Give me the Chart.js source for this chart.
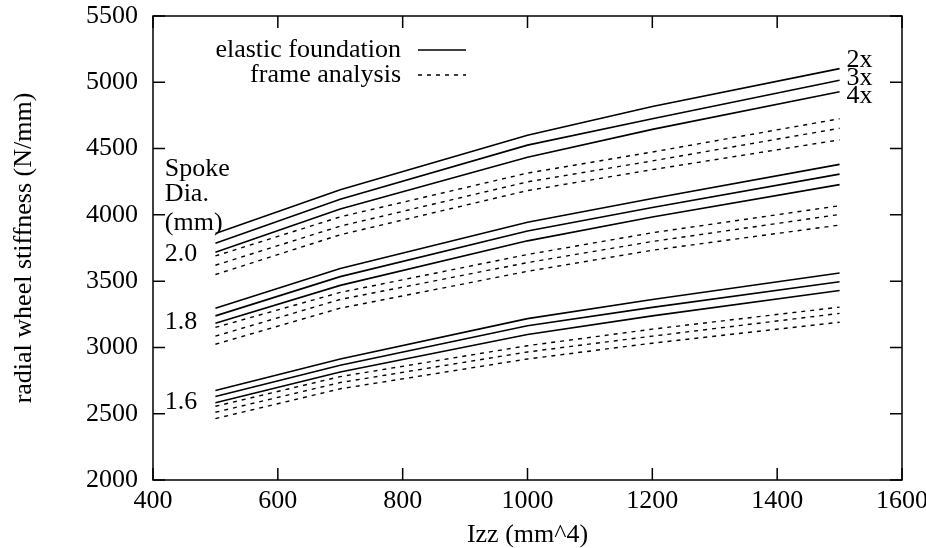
<!DOCTYPE html>
<html>
<head>
<meta charset="utf-8">
<script src="https://cdn.jsdelivr.net/npm/chart.js@4/dist/chart.umd.min.js"></script>
<style>
    html, body { margin: 0; padding: 0; background: #ffffff; }
    #chart { display: block; }
</style>
</head>
<body>
<canvas id="chart" width="926" height="548"></canvas>
<script>
// 数据: 辐条直径 x 交叉数 (2x/3x/4x)
const izz = [500, 700, 1000, 1200, 1500];
const xTicks = [400, 600, 800, 1000, 1200, 1400, 1600];
const yTicks = [2000, 2500, 3000, 3500, 4000, 4500, 5000, 5500];

// elastic foundation (实线)
const elastic20_2x = [3860, 4190, 4600, 4817, 5103];
const elastic20_3x = [3785, 4118, 4526, 4725, 5016];
const elastic20_4x = [3718, 4045, 4434, 4645, 4929];
const elastic18_2x = [3296, 3595, 3944, 4124, 4381];
const elastic18_3x = [3238, 3534, 3878, 4056, 4307];
const elastic18_4x = [3183, 3468, 3804, 3984, 4228];
const elastic16_2x = [2675, 2913, 3217, 3362, 3561];
const elastic16_3x = [2630, 2865, 3164, 3302, 3495];
const elastic16_4x = [2582, 2815, 3098, 3238, 3429];

// frame analysis (虚线)
const frame20_2x = [3690, 3985, 4315, 4474, 4725];
const frame20_3x = [3620, 3915, 4249, 4407, 4653];
const frame20_4x = [3550, 3850, 4183, 4341, 4566];
const frame18_2x = [3151, 3415, 3701, 3865, 4069];
const frame18_3x = [3085, 3362, 3640, 3799, 4003];
const frame18_4x = [3024, 3296, 3574, 3733, 3923];
const frame16_2x = [2556, 2780, 3013, 3138, 3304];
const frame16_3x = [2511, 2735, 2966, 3085, 3257];
const frame16_4x = [2463, 2688, 2913, 3032, 3190];

const elasticSeries = [elastic20_2x, elastic20_3x, elastic20_4x, elastic18_2x, elastic18_3x, elastic18_4x, elastic16_2x, elastic16_3x, elastic16_4x];
const frameSeries = [frame20_2x, frame20_3x, frame20_4x, frame18_2x, frame18_3x, frame18_4x, frame16_2x, frame16_3x, frame16_4x];

// 图中文字标注 (数据坐标)
const noteLabels = ['Spoke', 'Dia.', '(mm)', '2.0', '1.8', '1.6'];
const noteY = [4346, 4156, 3936, 3701, 3192, 2585];
const crossLabels = ['2x', '3x', '4x'];
const crossY = [5166, 5030, 4893];

const FONT = '"Liberation Serif", "DejaVu Serif", serif';
const FONT_SIZE = 26;

function toPoints(values) {
    return values.map((v, i) => ({ x: izz[i], y: v }));
}

const datasets = [];
elasticSeries.forEach(s => {
    datasets.push({
        data: toPoints(s),
        borderColor: '#000000',
        borderWidth: 1.6,
        pointRadius: 0,
        fill: false,
        tension: 0
    });
});
frameSeries.forEach(s => {
    datasets.push({
        data: toPoints(s),
        borderColor: '#000000',
        borderWidth: 1.4,
        borderDash: [4, 5],
        pointRadius: 0,
        fill: false,
        tension: 0
    });
});

// 边框, 向内刻度, 图例与标注
const framePlugin = {
    id: 'gnuplotFrame',
    afterDatasetsDraw(chart) {
        const ctx = chart.ctx;
        const area = chart.chartArea;
        const xs = chart.scales.x;
        const ys = chart.scales.y;
        const tick = 12;
        ctx.save();
        ctx.strokeStyle = '#000000';
        ctx.lineWidth = 1.5;
        ctx.setLineDash([]);
        ctx.strokeRect(area.left, area.top, area.right - area.left, area.bottom - area.top);
        ctx.beginPath();
        xTicks.forEach(v => {
            const px = xs.getPixelForValue(v);
            ctx.moveTo(px, area.bottom); ctx.lineTo(px, area.bottom - tick);
            ctx.moveTo(px, area.top); ctx.lineTo(px, area.top + tick);
        });
        yTicks.forEach(v => {
            const py = ys.getPixelForValue(v);
            ctx.moveTo(area.left, py); ctx.lineTo(area.left + tick, py);
            ctx.moveTo(area.right, py); ctx.lineTo(area.right - tick, py);
        });
        ctx.stroke();

        // 图例
        ctx.font = FONT_SIZE + 'px ' + FONT;
        ctx.fillStyle = '#000000';
        ctx.textBaseline = 'middle';
        ctx.textAlign = 'right';
        ctx.fillText('elastic foundation', 401, 50);
        ctx.fillText('frame analysis', 401, 75);
        ctx.lineWidth = 1.6;
        ctx.beginPath();
        ctx.moveTo(418, 50); ctx.lineTo(466, 50);
        ctx.stroke();
        ctx.lineWidth = 1.4;
        ctx.setLineDash([4, 5]);
        ctx.beginPath();
        ctx.moveTo(418, 75); ctx.lineTo(466, 75);
        ctx.stroke();
        ctx.setLineDash([]);

        // 标注
        ctx.textAlign = 'left';
        const leftX = xs.getPixelForValue(419);
        noteLabels.forEach((t, i) => {
            ctx.fillText(t, leftX, ys.getPixelForValue(noteY[i]));
        });
        const endX = xs.getPixelForValue(izz[izz.length - 1]) + 7;
        crossLabels.forEach((t, i) => {
            ctx.fillText(t, endX, ys.getPixelForValue(crossY[i]));
        });
        ctx.restore();
    }
};

new Chart(document.getElementById('chart'), {
    type: 'line',
    data: { datasets: datasets },
    options: {
        responsive: false,
        animation: false,
        devicePixelRatio: 1,
        layout: { padding: { left: 0, right: 24, top: 16, bottom: 0 } },
        plugins: {
            legend: { display: false },
            tooltip: { enabled: false }
        },
        scales: {
            x: {
                type: 'linear',
                min: 400,
                max: 1600,
                afterBuildTicks: scale => { scale.ticks = xTicks.map(v => ({ value: v })); },
                afterFit: scale => {
                    scale.height = 68;
                    scale.paddingLeft = 0;
                    scale.paddingRight = 0;
                },
                grid: { display: false, drawTicks: false },
                border: { display: false },
                ticks: {
                    color: '#000000',
                    padding: 6,
                    maxRotation: 0,
                    callback: v => String(v),
                    font: { family: FONT, size: FONT_SIZE }
                },
                title: {
                    display: true,
                    text: 'Izz (mm^4)',
                    color: '#000000',
                    padding: { top: 0, bottom: 0 },
                    font: { family: FONT, size: FONT_SIZE, lineHeight: 1 }
                }
            },
            y: {
                type: 'linear',
                min: 2000,
                max: 5500,
                afterBuildTicks: scale => { scale.ticks = yTicks.map(v => ({ value: v })); },
                afterFit: scale => {
                    scale.width = 153;
                    scale.paddingTop = 0;
                    scale.paddingBottom = 0;
                },
                grid: { display: false, drawTicks: false },
                border: { display: false },
                ticks: {
                    color: '#000000',
                    padding: 15,
                    callback: v => String(v),
                    font: { family: FONT, size: FONT_SIZE }
                },
                title: {
                    display: true,
                    text: 'radial wheel stiffness (N/mm)',
                    color: '#000000',
                    padding: { top: 11, bottom: 0 },
                    font: { family: FONT, size: FONT_SIZE, lineHeight: 1 }
                }
            }
        }
    },
    plugins: [framePlugin]
});
</script>
</body>
</html>
